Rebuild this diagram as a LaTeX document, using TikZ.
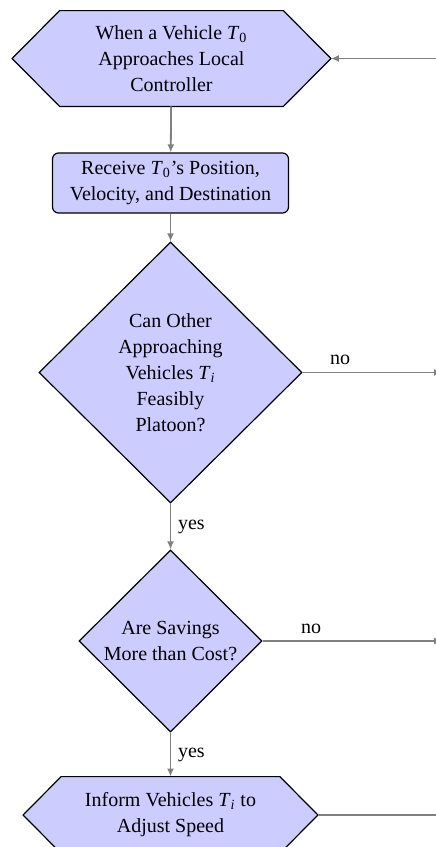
\documentclass[tikz,border=0pt]{standalone}
\usepackage{fontspec}
\setmainfont{Liberation Serif}
\usetikzlibrary{shapes.geometric,arrows.meta,backgrounds}
\definecolor{boxfill}{RGB}{204,204,255}
\definecolor{linkgray}{RGB}{128,128,128}
\newcommand{\Tsub}[1]{\textit{T}\textsubscript{#1}}
\begin{document}
\begin{tikzpicture}[x=0.5pt,y=-0.5pt,
  every node/.style={font=\fontsize{10pt}{13pt}\selectfont},
  flat/.style={align=center, inner sep=0pt, minimum width=111.5pt},
  hexfill/.style={draw=black, fill=boxfill, line width=0.6pt},
  procbox/.style={draw=black, fill=boxfill, rounded corners=3pt, align=center,
    minimum width=118pt, minimum height=30pt, inner sep=0pt, line width=0.6pt},
  decision/.style={diamond, draw=black, fill=boxfill, align=center, inner sep=0pt,
    aspect=1, line width=0.6pt},
  link/.style={draw=linkgray, line width=0.9pt, -{Latex[length=4pt,width=3.5pt]}},
  plainlink/.style={draw=linkgray, line width=0.9pt}]
\useasboundingbox (0,0) rectangle (435,847);

% process steps and decisions
\node[flat, minimum height=47.5pt] (start) at (171.5,58.5)
  {When a Vehicle \Tsub{0}\\Approaches Local\\Controller};
\coordinate (startE) at ([xshift=23.75pt]start.east);
\coordinate (startW) at ([xshift=-23.75pt]start.west);

\node[procbox] (recv) at (170.5,183)
  {Receive \Tsub{0}’s Position,\\Velocity, and Destination};

\node[decision, minimum width=131.5pt, minimum height=130.5pt] (feas) at (170.5,372.5)
  {Can Other\\Approaching\\Vehicles \Tsub{\textit{i}}\\Feasibly\\Platoon?};

\node[decision, minimum width=91.5pt, minimum height=91pt] (save) at (170.5,641)
  {Are Savings\\More than Cost?};

\node[flat, minimum width=109pt, minimum height=38pt] (inform) at (170.5,815)
  {Inform Vehicles \Tsub{\textit{i}} to\\Adjust Speed};
\coordinate (informE) at ([xshift=19pt]inform.east);
\coordinate (informW) at ([xshift=-19pt]inform.west);

% hexagonal outlines behind the text
\begin{pgfonlayer}{background}
  \path[hexfill] (start.north west) -- (start.north east) -- (startE)
    -- (start.south east) -- (start.south west) -- (startW) -- cycle;
  \path[hexfill] (inform.north west) -- (inform.north east) -- (informE)
    -- (inform.south east) -- (inform.south west) -- (informW) -- cycle;
\end{pgfonlayer}

% connectors
\coordinate (loopIn) at (446,58.5);
\coordinate (exitA) at (442,372.5);
\coordinate (exitB) at (442,641);
\coordinate (exitC) at (446,815);

\draw[link] (loopIn) -- (startE);
\draw[link] (start) -- (recv);
\draw[link] (recv) -- (feas);
\draw[link] (feas.east) -- node[pos=0.27, above] {no} (exitA);
\draw[link] (feas.south) -- node[right] {yes} (save.north);
\draw[link] (save.east) -- node[pos=0.27, above] {no} (exitB);
\draw[link] (save.south) -- node[right] {yes} (inform);
\draw[plainlink] (informE) -- (exitC);
\end{tikzpicture}
\end{document}
